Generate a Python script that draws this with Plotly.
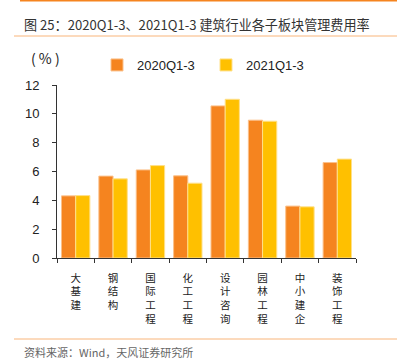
import plotly.graph_objects as go

categories = ["大基建", "钢结构", "国际工程", "化工工程", "设计咨询", "园林工程", "中小建企", "装饰工程"]
series_2020 = [4.31, 5.68, 6.11, 5.70, 10.55, 9.56, 3.60, 6.62]
series_2021 = [4.33, 5.49, 6.41, 5.19, 11.01, 9.49, 3.55, 6.86]
y_ticks = [0, 2, 4, 6, 8, 10, 12]

W, H = 397, 361
L, R, T, B = 57, 356, 85, 258

def px(x):
    return (x - L) / (R - L)

def py(y):
    return (B - y) / (B - T)

FONT = "Liberation Sans, Noto Sans CJK SC, sans-serif"
CJK = "Noto Sans CJK SC, Liberation Sans, sans-serif"

fig = go.Figure()
fig.add_bar(x=categories, y=series_2020, name="2020Q1-3", legend="legend",
            marker=dict(color="#F5841F", line=dict(color="#FBC08A", width=1)))
fig.add_bar(x=categories, y=series_2021, name="2021Q1-3", legend="legend2",
            marker=dict(color="#FFC000", line=dict(color="#FFE08A", width=1)))

leg_common = dict(orientation="h", yanchor="middle", xanchor="left",
                  font=dict(size=13, color="#222"), itemwidth=30,
                  bgcolor="rgba(0,0,0,0)", borderwidth=0)

fig.update_layout(
    width=W, height=H,
    margin=dict(l=L, r=W - R, t=T, b=H - B, pad=0, autoexpand=False),
    paper_bgcolor="white", plot_bgcolor="white",
    barmode="group", bargap=0.24, bargroupgap=0,
    font=dict(family=FONT, size=13, color="#222"),
    showlegend=True,
    legend=dict(x=px(97), y=py(65), **leg_common),
    legend2=dict(x=px(206), y=py(65), **leg_common),
    xaxis=dict(type="category", tickson="boundaries", ticks="outside", ticklen=4,
               tickcolor="#333", showline=True, linecolor="#333", linewidth=1,
               tickvals=categories, ticktext=["<br>".join(c) for c in categories],
               tickfont=dict(family=CJK, size=10.5, color="#222"), tickangle=0,
               range=[-0.5, 7.5], showgrid=False, automargin=False,
               ticklabelstandoff=10),
    yaxis=dict(range=[0, 12], tickvals=y_ticks, ticks="outside", ticklen=4,
               tickcolor="#333", showline=True, linecolor="#333", linewidth=1,
               showgrid=False, zeroline=False, tickfont=dict(size=13, color="#222"),
               automargin=False, ticklabelstandoff=10),
)

fig.add_annotation(text="图 25：2020Q1-3、2021Q1-3 建筑行业各子板块管理费用率",
                   xref="paper", yref="paper", x=px(22), y=py(25),
                   xanchor="left", yanchor="middle", showarrow=False,
                   font=dict(family=CJK, size=13.1, color="#333"))
fig.add_annotation(text="( % )", xref="paper", yref="paper", x=px(29), y=py(58),
                   xanchor="left", yanchor="middle", showarrow=False,
                   font=dict(family=CJK, size=14, color="#222"))
fig.add_annotation(text="资料来源：Wind，天风证券研究所", xref="paper", yref="paper",
                   x=px(22), y=py(352), xanchor="left", yanchor="middle", showarrow=False,
                   font=dict(family=CJK, size=11, color="#666"))

fig.add_shape(type="line", xref="paper", yref="paper", x0=px(20), x1=px(397),
              y0=py(0.5), y1=py(0.5), line=dict(color="#F5841F", width=2))
fig.add_shape(type="line", xref="paper", yref="paper", x0=px(14), x1=px(397),
              y0=py(36), y1=py(36), line=dict(color="#F9B57A", width=1))
fig.add_shape(type="line", xref="paper", yref="paper", x0=px(14), x1=px(397),
              y0=py(339), y1=py(339), line=dict(color="#F9B57A", width=1))

fig.write_html("out.html", config={"displayModeBar": False},
               post_script="document.body.style.margin='0';document.body.style.overflow='hidden';")
